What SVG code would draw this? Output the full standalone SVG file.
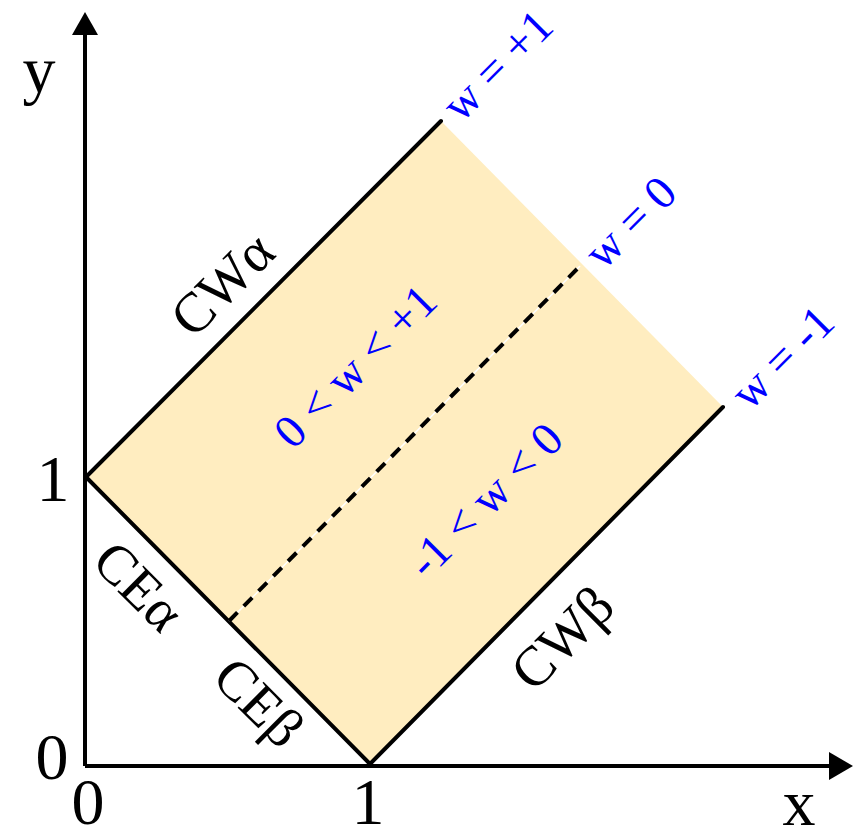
<svg xmlns="http://www.w3.org/2000/svg" width="859" height="839" viewBox="0 0 859 839">
<style>
.ax{stroke:#000;stroke-width:4;fill:none}
.edge{stroke:#000;stroke-width:4;fill:none;stroke-linecap:round}
.num{font-family:"Liberation Serif",serif;font-size:66px;fill:#000;text-anchor:middle}
.lab{font-family:"Liberation Serif",serif;font-size:56px;fill:#000;text-anchor:middle;dominant-baseline:central}
.blue{font-family:"Liberation Serif",serif;font-size:47px;fill:#0000FF;text-anchor:middle;dominant-baseline:central}
</style>
<rect width="859" height="839" fill="#fff"/>
<g id="region">
<polygon points="86,477 441,121 723,407 370,764" fill="#FFEDC0"/>
</g>
<g id="connectors">
<line class="ax" x1="85" y1="766" x2="835" y2="766"/>
<polygon points="853,766 829,752 829,780" fill="#000"/>
<line class="ax" x1="85" y1="766" x2="85" y2="30"/>
<polygon points="85,12 72,35 98,35" fill="#000"/>
<line class="edge" x1="86" y1="477" x2="441" y2="121"/>
<line class="edge" x1="86" y1="477" x2="370" y2="764"/>
<line class="edge" x1="370" y1="764" x2="723" y2="407"/>
<line x1="229" y1="621" x2="580" y2="266" stroke="#fff" stroke-width="1.5"/>
<line x1="229" y1="621" x2="580" y2="266" stroke="#000" stroke-width="4" stroke-dasharray="12 9"/>
</g>
<g id="axis-labels">
<text class="num" x="39" y="92">y</text>
<text class="num" x="799" y="825">x</text>
<text class="num" x="53" y="501">1</text>
<text class="num" x="52" y="779">0</text>
<text class="num" x="88" y="824">0</text>
<text class="num" x="368" y="824">1</text>
</g>
<g id="edge-labels">
<text class="lab" transform="translate(222,284) rotate(-45)">CWα</text>
<text class="lab" transform="translate(562,638) rotate(-45)">CWβ</text>
<text class="lab" transform="translate(139,586) rotate(45)">CEα</text>
<text class="lab" transform="translate(259,702) rotate(45)">CEβ</text>
</g>
<g id="w-labels">
<text class="blue" transform="translate(497,65) rotate(-45)">w = +1</text>
<text class="blue" transform="translate(630,222) rotate(-45)">w = 0</text>
<text class="blue" transform="translate(782,357) rotate(-45)">w = -1</text>
<text class="blue" transform="translate(355,366) rotate(-45)">0 &lt; w &lt; +1</text>
<text class="blue" transform="translate(485,500) rotate(-45)">-1 &lt; w &lt; 0</text>
</g>
</svg>
